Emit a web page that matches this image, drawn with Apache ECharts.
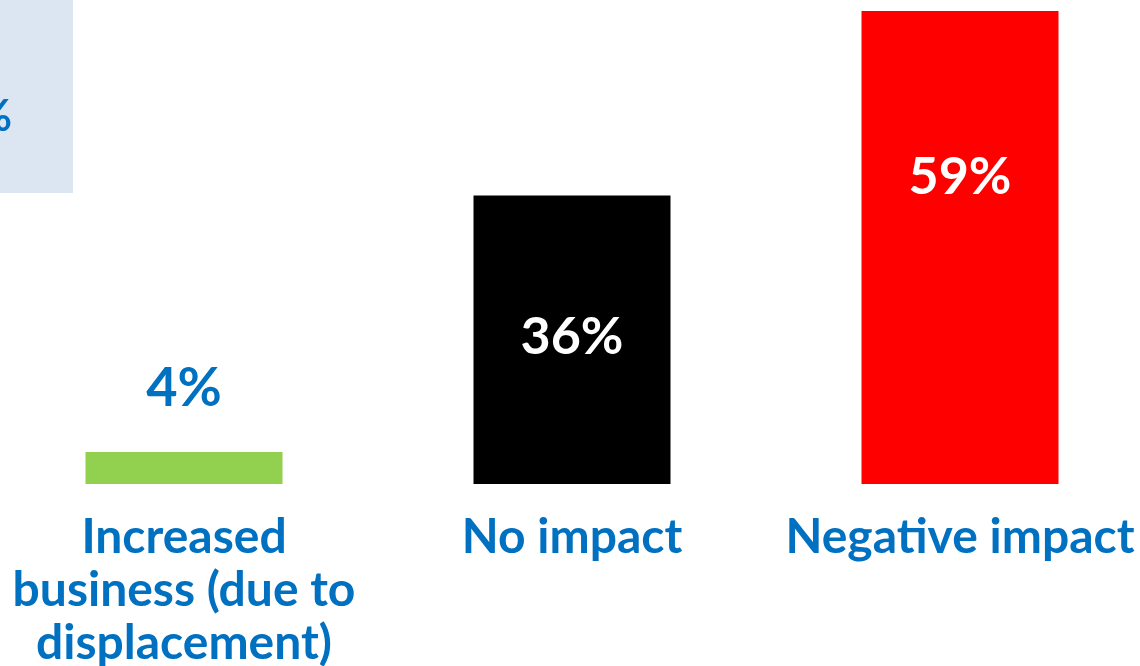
<!DOCTYPE html>
<html>
<head>
<meta charset="utf-8">
<script src="https://cdn.jsdelivr.net/npm/echarts@6/dist/echarts.min.js"></script>
<style>html,body{margin:0;padding:0;background:#fff;}#c{width:1140px;height:666px;}</style>
</head>
<body>
<div id="c"></div>
<script>
const categories = ['Increased\nbusiness (due to\ndisplacement)', 'No impact', 'Negative impact'];
const values = [4, 36, 59];
const barColors = ['#92D050', '#000000', '#FF0000'];
const valueLabels = ['4%', '36%', '59%'];

const FONT = 'Lato';
const BLUE = '#0070C0';
const chart = echarts.init(document.getElementById('c'), null, {renderer: 'canvas'});

const labelCfg = [
  {show: true, position: 'top', distance: 36, color: BLUE, fontSize: 54},
  {show: true, position: 'inside', offset: [0, -2], color: '#fff', fontSize: 52},
  {show: true, position: 'insideTop', distance: 140, color: '#fff', fontSize: 52}
];

chart.setOption({
  animation: false,
  backgroundColor: '#fff',
  grid: {left: -10, right: -14, top: 3, bottom: 182, containLabel: false, outerBoundsMode: 'none'},
  xAxis: {
    type: 'category',
    data: categories,
    axisLine: {show: false},
    axisTick: {show: false},
    axisLabel: {
      interval: 0,
      margin: 27,
      color: BLUE,
      fontFamily: FONT,
      fontWeight: 'bold',
      fontSize: 48,
      lineHeight: 53,
      verticalAlign: 'top',
      hideOverlap: false
    }
  },
  yAxis: {
    type: 'value', min: 0, max: 60,
    show: false, splitLine: {show: false}
  },
  graphic: [
    {type: 'rect', left: 0, top: 0, shape: {width: 73, height: 193}, style: {fill: '#DCE6F2'}, z: -1},
    {type: 'text', x: -24, y: 95, style: {text: '%', font: 'bold 44px Lato', fill: BLUE}}
  ],
  series: [{
    type: 'bar',
    barWidth: 197,
    data: values.map((v, i) => ({
      value: v,
      itemStyle: {color: barColors[i]},
      label: Object.assign({
        formatter: valueLabels[i],
        fontFamily: FONT,
        fontWeight: 'bold'
      }, labelCfg[i])
    }))
  }]
});
</script>
</body>
</html>
